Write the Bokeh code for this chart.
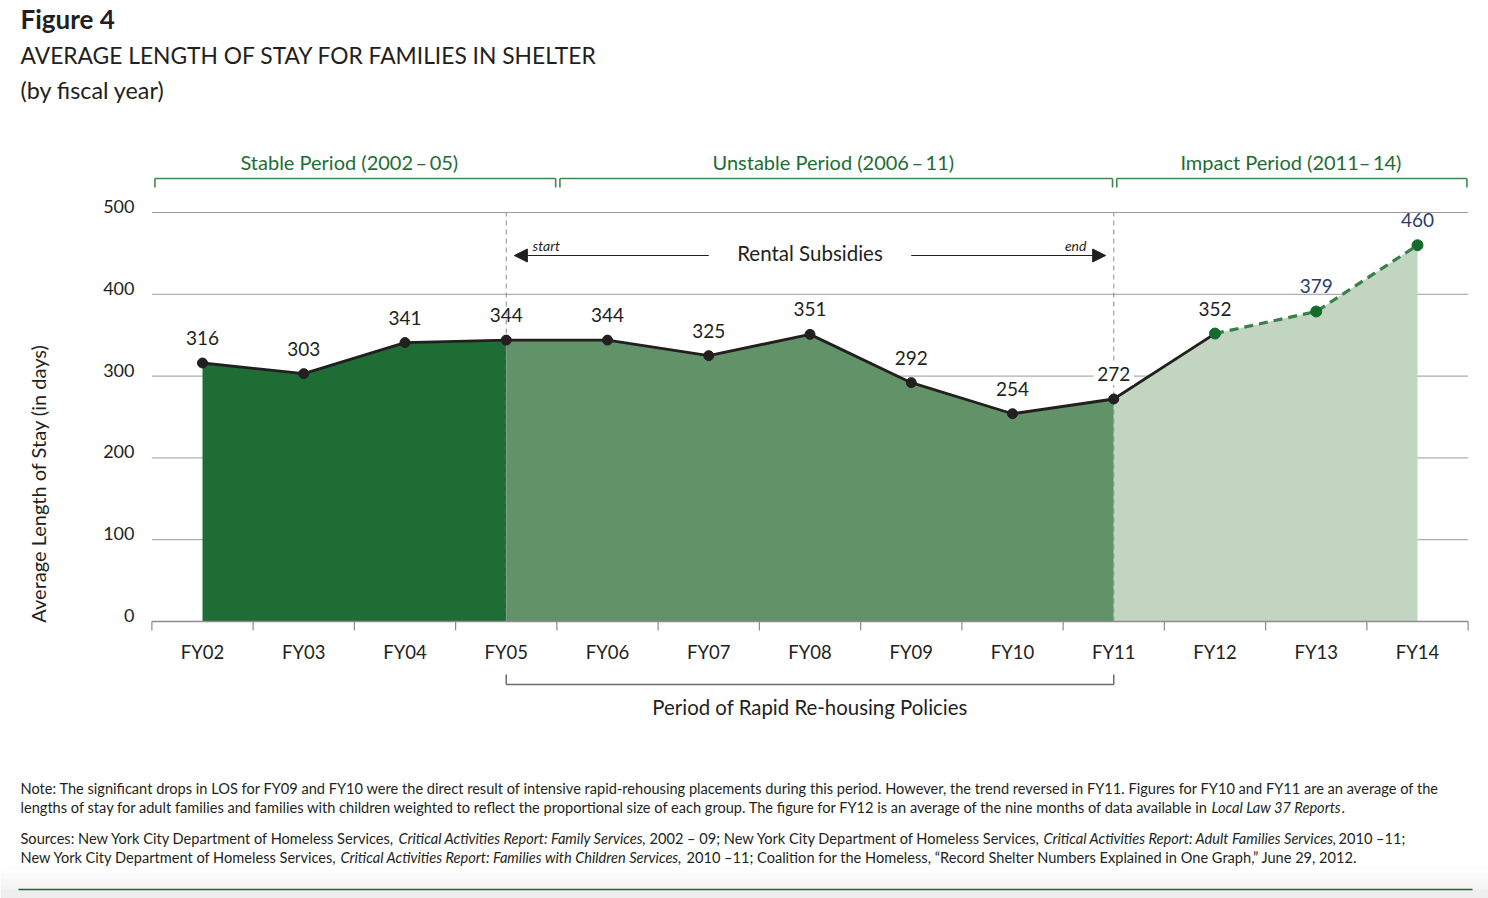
import math
from bokeh.plotting import figure
from bokeh.models import Range1d, Arrow, NormalHead
from bokeh.core.properties import value
from bokeh.embed import file_html
from bokeh.resources import INLINE

# ---------------- data ----------------
years = ["FY02", "FY03", "FY04", "FY05", "FY06", "FY07", "FY08",
         "FY09", "FY10", "FY11", "FY12", "FY13", "FY14"]
los = [316, 303, 341, 344, 344, 325, 351, 292, 254, 272, 352, 379, 460]
y_ticks = [0, 100, 200, 300, 400, 500]
period_names = ["Stable Period (2002\u2009\u2013\u200905)",
                "Unstable Period (2006\u2009\u2013\u200911)",
                "Impact Period (2011\u2013\u200914)"]
period_bounds = [(-0.5, 3.5), (3.5, 9.0), (9.0, 12.5)]
stable_end = 3      # FY05
rapid_end = 9       # FY11
projected_from = 10  # FY12 onward drawn dashed

# ---------------- layout helpers ----------------
W, H = 1488, 898
X0PX, DXPX = 202.0, 101.25
Y0PX, DYPX = 621.0, 0.818


def xd(px):
    return (px - X0PX) / DXPX


def yd(py):
    return (Y0PX - py) / DYPX


def dy(pxlen):
    return pxlen / DYPX


FONT = "Lato"
INK = "#231f20"

p = figure(width=W, height=H,
           x_range=Range1d(xd(0), xd(W)), y_range=Range1d(yd(H), yd(0)),
           x_axis_location=None, y_axis_location=None,
           toolbar_location=None, output_backend="svg", min_border=0)
p.outline_line_color = None
p.grid.visible = False
p.background_fill_color = "white"
p.border_fill_color = "white"

idx = list(range(len(years)))
xmin, xmax = -0.5, len(years) - 0.5

# gridlines
p.segment(x0=[xmin] * len(y_ticks), x1=[xmax] * len(y_ticks), y0=y_ticks, y1=y_ticks,
          line_color="#9b9b9b", line_width=1)

# areas
p.varea(x=idx[:stable_end + 1], y1=[0] * (stable_end + 1), y2=los[:stable_end + 1],
        fill_color="#1d6d35")
p.varea(x=idx[stable_end:rapid_end + 1], y1=[0] * (rapid_end - stable_end + 1),
        y2=los[stable_end:rapid_end + 1], fill_color="#629268")
p.varea(x=idx[rapid_end:], y1=[0] * (len(idx) - rapid_end), y2=los[rapid_end:],
        fill_color="#c1d5c1")

# dashed verticals at period boundaries
p.segment(x0=[stable_end, rapid_end], x1=[stable_end, rapid_end],
          y0=[0, 0], y1=[y_ticks[-1], y_ticks[-1]],
          line_color="#8c8c8c", line_width=1, line_dash="5 4")

# axis line and boundary ticks
p.segment(x0=[xmin], x1=[xmax], y0=[0], y1=[0], line_color="#8c8c8c", line_width=1.3)
bounds = [i - 0.5 for i in range(len(years) + 1)]
p.segment(x0=bounds, x1=bounds, y0=[0] * len(bounds), y1=[-dy(9)] * len(bounds),
          line_color="#8c8c8c", line_width=1.2)

# y tick labels
p.text(x=[xd(134)] * len(y_ticks), y=[t + dy(6) for t in y_ticks],
       text=[str(t) for t in y_ticks], text_align="right", text_baseline="middle",
       text_font=value(FONT), text_font_size="18px", text_color=INK)
# y title
p.text(x=[xd(37)], y=[yd(483)], text=["Average Length of Stay (in days)"],
       angle=math.pi / 2, text_align="center", text_baseline="middle",
       text_font=value(FONT), text_font_size="20px", text_color=INK)
# x labels
p.text(x=idx, y=[-dy(30)] * len(idx), text=years, text_align="center",
       text_baseline="middle", text_font=value(FONT), text_font_size="18.5px",
       text_color=INK)

# lines and points
p.line(x=idx[:projected_from + 1], y=los[:projected_from + 1], line_color=INK,
       line_width=2.8)
p.line(x=idx[projected_from:], y=los[projected_from:], line_color="#3a7f48",
       line_width=3.2, line_dash="9 6")
p.scatter(x=idx[:projected_from], y=los[:projected_from], size=10,
          fill_color=INK, line_color=INK)
p.scatter(x=idx[projected_from:], y=los[projected_from:], size=11,
          fill_color="#156b2e", line_color="#156b2e")

# white box behind the FY11 label
p.quad(left=[rapid_end - 0.2], right=[rapid_end + 0.2],
       bottom=[los[rapid_end] + dy(14)], top=[los[rapid_end] + dy(36)],
       fill_color="white", line_color=None)

# value labels
lab_colors = [INK] * 11 + ["#2c3d6b", "#2c3d6b"]
p.text(x=idx, y=[v + dy(25) for v in los], text=[str(v) for v in los],
       text_color=lab_colors, text_align="center", text_baseline="middle",
       text_font=value(FONT), text_font_size="19px")

# period headers and brackets
GREEN_T = "#1f6b34"
GREEN_B = "#3d8a4e"
header_shift = [-0.05, -0.02, 0.0]
for name, (b0, b1), sh in zip(period_names, period_bounds, header_shift):
    p.text(x=[(b0 + b1) / 2 + sh], y=[yd(161)], text=[name], text_align="center",
           text_baseline="middle", text_font=value(FONT), text_font_size="20px",
           text_color=GREEN_T)
    l, r = b0 + 0.03, b1 - 0.012
    p.segment(x0=[l, l, r], x1=[r, l, r], y0=[yd(178), yd(178), yd(178)],
              y1=[yd(178), yd(187), yd(187)], line_color=GREEN_B, line_width=1.6)

# Rental subsidies arrows
mid = (stable_end + rapid_end) / 2
p.add_layout(Arrow(end=NormalHead(size=13, fill_color=INK, line_color=INK),
                   x_start=mid - 1.0, y_start=yd(255), x_end=stable_end + 0.08,
                   y_end=yd(255), line_color=INK, line_width=1.1))
p.add_layout(Arrow(end=NormalHead(size=13, fill_color=INK, line_color=INK),
                   x_start=mid + 1.0, y_start=yd(255), x_end=rapid_end - 0.08,
                   y_end=yd(255), line_color=INK, line_width=1.1))
p.text(x=[mid], y=[yd(252)], text=["Rental Subsidies"], text_align="center",
       text_baseline="middle", text_font=value(FONT), text_font_size="20.5px",
       text_color=INK)
p.text(x=[stable_end + 0.26], y=[yd(245)], text=["start"], text_align="left",
       text_baseline="middle", text_font=value(FONT), text_font_size="14px",
       text_font_style="italic", text_color=INK)
p.text(x=[rapid_end - 0.27], y=[yd(245)], text=["end"], text_align="right",
       text_baseline="middle", text_font=value(FONT), text_font_size="14px",
       text_font_style="italic", text_color=INK)

# bottom bracket
p.segment(x0=[stable_end, stable_end, rapid_end], x1=[rapid_end, stable_end, rapid_end],
          y0=[yd(684), yd(684), yd(684)], y1=[yd(684), yd(674), yd(674)],
          line_color="#6b6b6b", line_width=1.5)
p.text(x=[mid], y=[yd(706)], text=["Period of Rapid Re-housing Policies"],
       text_align="center", text_baseline="middle", text_font=value(FONT),
       text_font_size="20.4px", text_color=INK)

# titles
p.text(x=[xd(20)], y=[yd(18)], text=["Figure 4"], text_align="left",
       text_baseline="middle", text_font=value(FONT), text_font_size="26px",
       text_font_style="bold", text_color=INK)
p.text(x=[xd(20)], y=[yd(54)], text=["AVERAGE LENGTH OF STAY FOR FAMILIES IN SHELTER"],
       text_align="left", text_baseline="middle", text_font=value(FONT),
       text_font_size="22.8px", text_color=INK)
p.text(x=[xd(20)], y=[yd(89)], text=["(by fiscal year)"], text_align="left",
       text_baseline="middle", text_font=value(FONT), text_font_size="23.3px",
       text_color=INK)

# notes & sources (segments: start px, text, italic)
notes = [
    (788, [(20, "Note: The significant drops in LOS for FY09 and FY10 were the direct result of intensive rapid-rehousing placements during this period. However, the trend reversed in FY11. Figures for FY10 and FY11 are an average of the", False)]),
    (807, [(20, "lengths of stay for adult families and families with children weighted to reflect the proportional size of each group. The figure for FY12 is an average of the nine months of data available in", False),
           (1211, "Local Law 37 Reports", True), (1341, ".", False)]),
    (838, [(20, "Sources: New York City Department of Homeless Services,", False),
           (398, "Critical Activities Report: Family Services,", True),
           (649, "2002 \u2013 09; New York City Department of Homeless Services,", False),
           (1043, "Critical Activities Report: Adult Families Services,", True),
           (1338, "2010 \u201311;", False)]),
    (857, [(20, "New York City Department of Homeless Services,", False),
           (340, "Critical Activities Report: Families with Children Services,", True),
           (686, "2010 \u201311; Coalition for the Homeless, \u201cRecord Shelter Numbers Explained in One Graph,\u201d June 29, 2012.", False)]),
]
for ypx, segs in notes:
    for xpx, t, ital in segs:
        p.text(x=[xd(xpx)], y=[yd(ypx)], text=[t], text_align="left",
               text_baseline="middle", text_font=value(FONT), text_font_size="14.6px",
               text_font_style="italic" if ital else "normal", text_color=INK)

# bottom band
band_cols = ["#fdfdfd", "#fafafa", "#f7f7f7", "#f4f4f4"]
for k, c in enumerate(band_cols):
    p.quad(left=[xd(0)], right=[xd(W)], top=[yd(866 + 6 * k)], bottom=[yd(872 + 6 * k)],
           fill_color=c, line_color=None)
p.quad(left=[xd(0)], right=[xd(W)], top=[yd(889)], bottom=[yd(H)],
       fill_color="#eeeeee", line_color=None)
p.segment(x0=[xd(18)], x1=[xd(1472)], y0=[yd(889)], y1=[yd(889)],
          line_color="#2b5d37", line_width=1.5)

open("out.html", "w").write(file_html(p, INLINE))
